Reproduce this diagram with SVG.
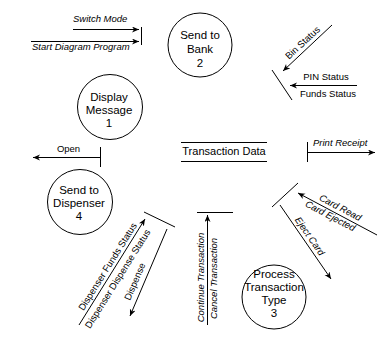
<svg xmlns="http://www.w3.org/2000/svg" width="389" height="337" viewBox="0 0 389 337">
  <defs>
    <marker id="head" markerUnits="userSpaceOnUse" markerWidth="8" markerHeight="7" refX="7" refY="3" orient="auto">
      <path d="M0,0 L7,3 L0,6 L2,3 Z" fill="#000"/>
    </marker>
    <style>
      text { font-family: "Liberation Sans", Arial, sans-serif; fill: #000; }
      .node circle { fill: #fff; stroke: #000; stroke-width: 1; }
      .node text { font-size: 11.5px; text-anchor: middle; }
      .store line { stroke: #000; stroke-width: 1; }
      .store text { font-size: 11px; text-anchor: middle; }
      .flow { stroke: #000; stroke-width: 1; fill: none; marker-end: url(#head); }
      .bar { stroke: #000; stroke-width: 1; fill: none; }
      .lbl { font-size: 9.5px; }
      .mid { text-anchor: middle; }
      .it { font-style: italic; }
    </style>
  </defs>
  <rect width="389" height="337" fill="#fff"/>

  <!-- processes -->
  <g id="send-to-bank" class="node">
    <circle cx="200" cy="45" r="32"/>
    <text x="200" y="39">Send to</text>
    <text x="200" y="53">Bank</text>
    <text x="200" y="67">2</text>
  </g>
  <g id="display-message" class="node">
    <circle cx="110" cy="107" r="32.5"/>
    <text x="109" y="101">Display</text>
    <text x="109" y="114">Message</text>
    <text x="109" y="127">1</text>
  </g>
  <g id="send-to-dispenser" class="node">
    <circle cx="80" cy="202" r="32.5"/>
    <text x="79" y="194">Send to</text>
    <text x="79" y="207">Dispenser</text>
    <text x="79" y="220">4</text>
  </g>
  <g id="process-transaction-type" class="node">
    <circle cx="274" cy="297" r="32"/>
    <text x="274" y="278">Process</text>
    <text x="274" y="291">Transaction</text>
    <text x="274" y="304">Type</text>
    <text x="274" y="317">3</text>
  </g>

  <!-- data store -->
  <g id="transaction-data" class="store">
    <line x1="181" y1="142.5" x2="267" y2="142.5"/>
    <line x1="181" y1="161.5" x2="267" y2="161.5"/>
    <text x="224" y="155">Transaction Data</text>
  </g>

  <!-- flows -->
  <g id="connectors">
    <!-- mode / start inputs -->
    <line class="bar" x1="141.5" y1="27" x2="141.5" y2="45"/>
    <line class="flow" x1="73" y1="29.5" x2="139" y2="29.5"/>
    <line class="flow" x1="31" y1="41.5" x2="139" y2="41.5"/>
    <text class="lbl it" x="73" y="22">Switch Mode</text>
    <text class="lbl it" x="32" y="50">Start Diagram Program</text>

    <!-- bank replies -->
    <line class="flow" x1="332" y1="25" x2="283" y2="71"/>
    <g transform="translate(307.5,48) rotate(-43)">
      <text class="lbl mid" x="0" y="-4">Bin Status</text>
    </g>
    <line class="bar" x1="272" y1="70" x2="292" y2="100"/>
    <line class="flow" x1="357" y1="85.5" x2="290" y2="85.5"/>
    <text class="lbl mid" x="326" y="80">PIN Status</text>
    <text class="lbl mid" x="328" y="97">Funds Status</text>

    <!-- open -->
    <line class="bar" x1="100.5" y1="147" x2="100.5" y2="167"/>
    <line class="flow" x1="100" y1="157.5" x2="33" y2="157.5"/>
    <text class="lbl mid" x="68.5" y="152">Open</text>

    <!-- receipt -->
    <line class="bar" x1="307.5" y1="142" x2="307.5" y2="162"/>
    <line class="flow" x1="307" y1="152.5" x2="375" y2="152.5"/>
    <text class="lbl it" x="313" y="146">Print Receipt</text>

    <!-- card reader -->
    <line class="bar" x1="298" y1="183" x2="272" y2="207"/>
    <line class="flow" x1="377" y1="235" x2="298" y2="193"/>
    <g transform="translate(337,214) rotate(27.7)">
      <text class="lbl mid it" x="0" y="-4">Card Read</text>
      <text class="lbl mid it" x="-5" y="8">Card Ejected</text>
    </g>
    <line class="flow" x1="280" y1="205" x2="331" y2="279"/>
    <g transform="translate(306,242.5) rotate(55.3)">
      <text class="lbl mid it" x="-3" y="-3.5">Eject Card</text>
    </g>

    <!-- dispenser -->
    <line class="bar" x1="144" y1="212" x2="175" y2="227"/>
    <line class="flow" x1="79" y1="325" x2="145" y2="219"/>
    <g transform="translate(112.5,271.5) rotate(-58)">
      <text class="lbl mid" x="1.5" y="-3.5">Dispenser Funds Status</text>
      <text class="lbl mid" x="-3.5" y="11.5">Dispenser Dispense Status</text>
    </g>
    <line class="flow" x1="167" y1="229" x2="130" y2="316"/>
    <g transform="translate(148,273) rotate(-66.6)">
      <text class="lbl mid" x="-13" y="-5.5">Dispense</text>
    </g>

    <!-- continue / cancel -->
    <line class="bar" x1="197" y1="212.5" x2="233" y2="212.5"/>
    <line class="flow" x1="207.5" y1="325" x2="207.5" y2="215"/>
    <g transform="translate(204,277.5) rotate(-90)">
      <text class="lbl mid it" x="0" y="0">Continue Transaction</text>
    </g>
    <g transform="translate(217,278.5) rotate(-90)">
      <text class="lbl mid it" x="0" y="0">Cancel Transaction</text>
    </g>
  </g>
</svg>
